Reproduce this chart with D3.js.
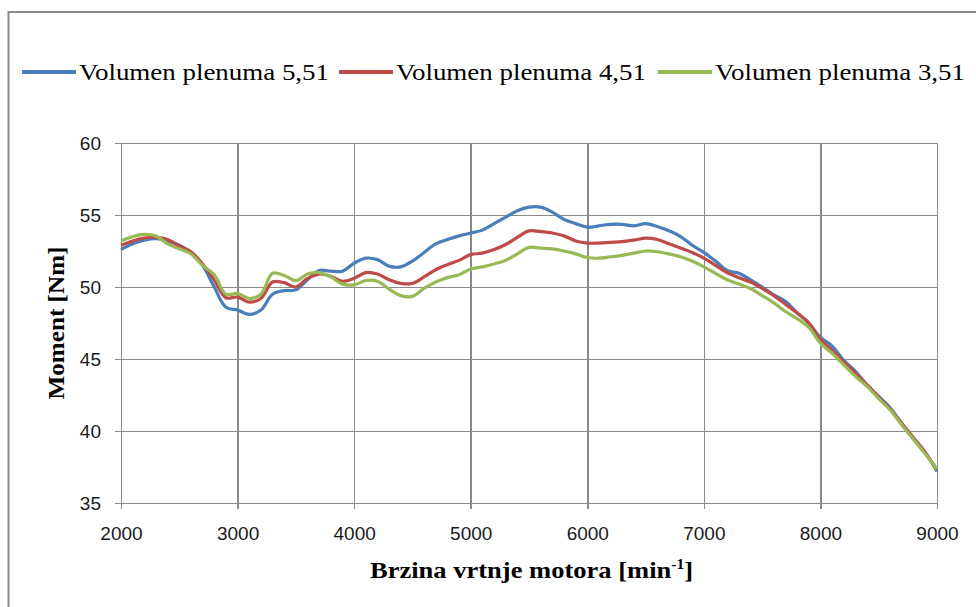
<!DOCTYPE html>
<meta charset="utf-8">
<head>
<title>Moment</title>
<style>
  body { margin: 0; background: #fff; }
  .grid line { stroke: #8a8a8a; stroke-width: 1.6; shape-rendering: crispEdges; }
  .grid path { display: none; }
  .axis path, .axis line { stroke: #8a8a8a; stroke-width: 1.6; fill: none; shape-rendering: crispEdges; }
  .axis text { font-family: "Liberation Sans", Arial, sans-serif; font-size: 19px; fill: #1a1a1a; }
</style>
</head>
<body>
<div id="chart"></div>
<script src="https://d3js.org/d3.v7.min.js"></script>
<script>

// rpm values (shared x)
var rpm = d3.range(2000, 9001, 100);

var xTicks = [2000, 3000, 4000, 5000, 6000, 7000, 8000, 9000];
var yTicks = [35, 40, 45, 50, 55, 60];

var names = ["Volumen plenuma 5,51", "Volumen plenuma 4,51", "Volumen plenuma 3,51"];
var colors = ["#4a7ebb", "#be4b48", "#98b954"];

// values, one per 100 rpm
var v55 = [52.6, 53.0, 53.25, 53.35, 53.2, 52.9, 52.4, 51.5, 50.0, 48.6,
  48.4, 48.1, 48.4, 49.5, 49.75, 49.8, 50.5, 51.15, 51.1, 51.1,
  51.65, 52.0, 51.9, 51.45, 51.4, 51.8, 52.4, 53.0, 53.3, 53.55,
  53.75, 53.95, 54.4, 54.85, 55.3, 55.55, 55.55, 55.2, 54.7, 54.4,
  54.15, 54.25, 54.35, 54.35, 54.25, 54.4, 54.2, 53.9, 53.5, 52.9,
  52.4, 51.8, 51.15, 50.95, 50.5, 50.0, 49.45, 49.0, 48.2, 47.5,
  46.5, 45.9, 44.9, 44.15, 43.2, 42.4, 41.6, 40.5, 39.5, 38.5, 37.2];

var v45 = [52.9, 53.2, 53.4, 53.45, 53.3, 52.85, 52.45, 51.6, 50.5, 49.25,
  49.3, 48.95, 49.2, 50.35, 50.3, 50.0, 50.6, 50.9, 50.75, 50.4,
  50.6, 51.0, 50.9, 50.5, 50.25, 50.25, 50.7, 51.2, 51.55, 51.85,
  52.25, 52.35, 52.6, 52.95, 53.45, 53.9, 53.85, 53.75, 53.55, 53.2,
  53.05, 53.05, 53.1, 53.15, 53.25, 53.4, 53.3, 53.0, 52.7, 52.4,
  52.0, 51.5, 51.0, 50.65, 50.35, 49.9, 49.4, 48.8, 48.2, 47.5,
  46.35, 45.6, 44.8, 44.0, 43.2, 42.35, 41.5, 40.5, 39.5, 38.5, 37.3];

var v35 = [53.2, 53.5, 53.65, 53.55, 53.0, 52.65, 52.3, 51.5, 50.85, 49.5,
  49.55, 49.2, 49.5, 50.95, 50.8, 50.45, 50.9, 51.0, 50.7, 50.2,
  50.15, 50.45, 50.4, 49.85, 49.4, 49.35, 49.9, 50.35, 50.65, 50.85,
  51.25, 51.4, 51.6, 51.85, 52.3, 52.75, 52.7, 52.65, 52.5, 52.3,
  52.05, 52.0, 52.1, 52.2, 52.35, 52.5, 52.45, 52.3, 52.1, 51.8,
  51.4, 50.95, 50.5, 50.2, 49.9, 49.4, 48.9, 48.3, 47.8, 47.2,
  46.1, 45.4, 44.6, 43.8, 43.1, 42.25, 41.45, 40.4, 39.4, 38.4, 37.35];

var series = [v55, v45, v35];

var serif = "'Liberation Serif', 'Times New Roman', Tinos, serif";

var W = 976, H = 607;
var margin = {top: 143, right: 39, bottom: 104, left: 121},
    width = W - margin.left - margin.right,
    height = H - margin.top - margin.bottom;

var root = d3.select("#chart").append("svg")
    .attr("width", W)
    .attr("height", H);

// outer chart border
root.append("rect")
    .attr("x", 8.5).attr("y", 12)
    .attr("width", W).attr("height", H)
    .style("fill", "none")
    .style("stroke", "#8a8a8a")
    .style("stroke-width", 2);

var svg = root.append("g")
    .attr("transform", "translate(" + margin.left + "," + margin.top + ")");

var x = d3.scaleLinear().domain([2000, 9000]).range([0, width]);
var y = d3.scaleLinear().domain([35, 60]).range([height, 0]);

// gridlines
svg.append("g").attr("class", "grid")
    .call(d3.axisLeft(y).tickValues(yTicks).tickSize(-width).tickFormat(""));
svg.append("g").attr("class", "grid")
    .call(d3.axisBottom(x).tickValues(xTicks).tickSize(-height).tickFormat(""))
    .attr("transform", "translate(0," + height + ")");

// axes
svg.append("g").attr("class", "axis")
    .call(d3.axisLeft(y).tickValues(yTicks).tickSize(6).tickSizeOuter(0).tickPadding(14)
      .tickFormat(d3.format("d")));
svg.append("g").attr("class", "axis")
    .attr("transform", "translate(0," + height + ")")
    .call(d3.axisBottom(x).tickValues(xTicks).tickSize(6).tickSizeOuter(0).tickPadding(18)
      .tickFormat(d3.format("d")));

// lines
var line = d3.line()
    .x(function(d, i) { return x(rpm[i]); })
    .y(function(d) { return y(d); })
    .curve(d3.curveCatmullRom);

series.forEach(function(s, k) {
  svg.append("path")
    .datum(s)
    .attr("d", line)
    .style("fill", "none")
    .style("stroke", colors[k])
    .style("stroke-width", 3.2)
    .style("stroke-linejoin", "round");
});

// axis titles
var xt = root.append("text")
    .attr("x", 370).attr("y", 578)
    .attr("font-family", serif)
    .attr("font-weight", "bold")
    .attr("font-size", 24)
    .attr("textLength", 323)
    .attr("lengthAdjust", "spacingAndGlyphs");
xt.append("tspan").text("Brzina vrtnje motora [min");
xt.append("tspan").attr("dy", -9).attr("font-size", 14).text("-1");
xt.append("tspan").attr("dy", 9).text("]");

root.append("text")
    .attr("transform", "translate(64,323) rotate(-90)")
    .attr("text-anchor", "middle")
    .attr("font-family", serif)
    .attr("font-weight", "bold")
    .attr("font-size", 24)
    .attr("textLength", 153)
    .attr("lengthAdjust", "spacingAndGlyphs")
    .text("Moment [Nm]");

// legend
var legX = [22, 339, 658];
names.forEach(function(n, k) {
  root.append("line")
    .attr("x1", legX[k]).attr("x2", legX[k] + 54)
    .attr("y1", 72).attr("y2", 72)
    .style("stroke", colors[k])
    .style("stroke-width", 4);
  root.append("text")
    .attr("x", legX[k] + 57).attr("y", 80)
    .attr("font-family", serif)
    .attr("font-size", 24)
    .attr("textLength", 250)
    .attr("lengthAdjust", "spacingAndGlyphs")
    .text(n);
});

</script>
</body>
